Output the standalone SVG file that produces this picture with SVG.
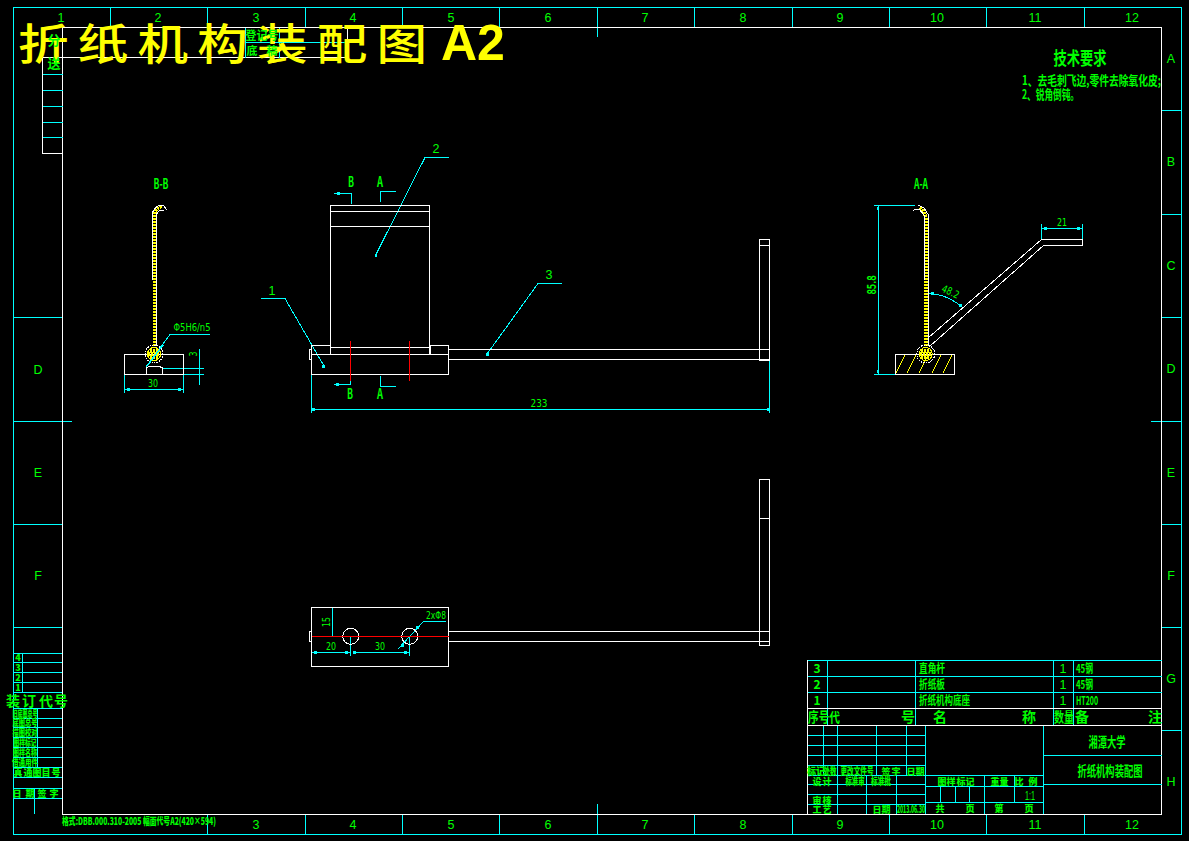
<svg xmlns="http://www.w3.org/2000/svg" width="1189" height="841" viewBox="0 0 1189 841" shape-rendering="crispEdges">
<style>
.c{stroke:#0ff;stroke-width:1;fill:none}
.w{stroke:#fff;stroke-width:1;fill:none}
.wb{stroke:#fff;stroke-width:1;fill:none}
.r{stroke:#f00;stroke-width:1;fill:none}
.y{stroke:#ff0;stroke-width:1;fill:none}
.yh{stroke:#ff0;stroke-width:3.500;stroke-dasharray:2 1;fill:none}
.lg{stroke:#0ff;stroke-width:1;fill:none}
.tick{fill:#0ff}
text{fill:#0f0;font-family:"Noto Sans CJK SC","DejaVu Sans",sans-serif;text-anchor:middle}
.n{font-family:"Liberation Sans",sans-serif;font-size:12.500px}
.d{font-family:"DejaVu Sans",sans-serif;font-size:10.500px}
.s{font-size:12px;font-weight:700}
.xs{font-size:10px;font-weight:900}
.g{font-size:9px;font-weight:900}
.l{text-anchor:start}
.t{fill:#ff0;font-size:46px;text-anchor:start;font-weight:500}
</style>
<rect width="1189" height="841" fill="#000"/>
<g id="frame">
<path class="c" d="M13.500 7.500H1181V834H13.500Z"/>
<path class="c" d="M110.500 7.500V27M207.500 7.500V27M305.500 7.500V27M402.500 7.500V27M499.500 7.500V27M597.500 7.500V37M694.500 7.500V27M792.500 7.500V27M889.500 7.500V27M986.500 7.500V27M1084.500 7.500V27"/>
<path class="c" d="M207.500 814V834M305.500 814V834M402.500 814V834M499.500 814V834M597.500 804V834M694.500 814V834M792.500 814V834M889.500 814V834M986.500 814V834M1084.500 814V834"/>
<path class="c" d="M13.500 317.500H62M13.500 421H72M13.500 524.500H62M13.500 627.500H62"/>
<path class="c" d="M1161.500 110.500H1181M1161.500 214H1181M1161.500 317.500H1181M1151 421H1181M1161.500 524.500H1181M1161.500 627.500H1181M1161.500 730.500H1181"/>
<path class="w" d="M62.500 27.500H1161.500V814H62.500Z"/>
<path class="w" d="M42.500 57.500H347.500V27.500M42.500 57.500V153.500H62.500"/>
<path class="c" d="M42.500 74.500H62.500M42.500 90.500H62.500M42.500 106.500H62.500M42.500 122.500H62.500M42.500 137.500H62.500"/>
<path class="c" d="M245.500 27.500V57.500M279.500 27.500V57.500M245.500 42.500H347.500"/>
</g>
<g id="drawing-title">
<text class="t" transform="translate(18 60) scale(1.1 0.95)" x="0" y="0" textLength="372" lengthAdjust="spacing">折纸机构装配图</text>
<text class="t" x="441" y="60" style="font-family:'Liberation Sans',sans-serif;font-weight:700;font-size:50px">A2</text>
</g>
<g id="border-labels">
<text class="n" x="61" y="22">1</text><text class="n" x="158" y="22">2</text><text class="n" x="256" y="22">3</text><text class="n" x="353" y="22">4</text><text class="n" x="451" y="22">5</text><text class="n" x="548" y="22">6</text><text class="n" x="645" y="22">7</text><text class="n" x="743" y="22">8</text><text class="n" x="840" y="22">9</text><text class="n" x="937" y="22">10</text><text class="n" x="1035" y="22">11</text><text class="n" x="1132" y="22">12</text>
<text class="n" x="256" y="829">3</text><text class="n" x="353" y="829">4</text><text class="n" x="451" y="829">5</text><text class="n" x="548" y="829">6</text><text class="n" x="645" y="829">7</text><text class="n" x="743" y="829">8</text><text class="n" x="840" y="829">9</text><text class="n" x="937" y="829">10</text><text class="n" x="1035" y="829">11</text><text class="n" x="1132" y="829">12</text>
<text class="n" x="38" y="374">D</text><text class="n" x="38" y="477">E</text><text class="n" x="38" y="580">F</text>
<text class="n" x="1171" y="63">A</text><text class="n" x="1171" y="166">B</text><text class="n" x="1171" y="270">C</text><text class="n" x="1171" y="373">D</text><text class="n" x="1171" y="477">E</text><text class="n" x="1171" y="580">F</text><text class="n" x="1171" y="683">G</text><text class="n" x="1171" y="786">H</text>
</g>
<g id="top-left-table">
<text class="s" x="54" y="45" style="font-size:13px">分</text><text class="s" x="54" y="68" style="font-size:13px">送</text>
<text class="s" x="262" y="40" textLength="33" lengthAdjust="spacingAndGlyphs">登记号</text>
<text class="s" x="252 272" y="55" style="font-size:11px">底稿</text>
</g>
<g id="connectors">
<path class="lg" d="M261 298.500H285L324 366M449 157.500H425L375.700 255M562 283.500H538L487 354"/>
<path class="lg" d="M334 193.500H351V204M380.500 202V191.500H396M334 384.500H350.500V375M380.500 376V386.500H396"/>
<path class="lg" d="M311.500 374V413M769.500 360V413M311.500 409.500H769.500"/>
<path class="lg" d="M124.500 374V393M183.500 374V393M124.500 389.500H183.500M162 368.500H204M183 374.500H204M199.500 349V385"/>
<path class="lg" d="M146 367L170 334.500H210"/>
<path class="lg" d="M874 205.500H915M874 374.500H895M878.500 205.500V374.500M1041.500 224V240M1082.500 224V240M1041.500 228.500H1082.500"/>
<path class="lg" d="M928 293.500Q948 294 963.500 308.500"/>
<path class="lg" d="M332.500 608V636.500M328 636.500H350.500M350.500 636V656M409.500 636V656M311.500 652H350M354 652H409.500M397.500 649.500L423.500 621.500H445.500"/>
<g class="tick">
<rect x="322" y="364.500" width="3" height="3"/><rect x="374.500" y="254" width="2.500" height="2.500"/><rect x="486" y="353" width="2.500" height="2.500"/>
<rect x="337" y="192" width="3" height="3"/><rect x="336" y="383" width="3" height="3"/>
<rect x="311.500" y="407.800" width="3" height="3"/><rect x="766.500" y="407.800" width="3" height="3"/>
<rect x="127" y="388" width="3" height="3"/><rect x="178" y="388" width="3" height="3"/>
<rect x="877" y="207" width="2" height="3"/><rect x="877" y="370" width="2" height="3"/>
<rect x="1044" y="227" width="3" height="3"/><rect x="1077" y="227" width="3" height="3"/>
<rect x="931" y="292" width="3" height="3"/><rect x="959" y="304" width="3" height="3"/>
<rect x="314" y="650.500" width="3" height="3"/><rect x="345" y="650.500" width="3" height="3"/><rect x="353" y="650.500" width="3" height="3"/><rect x="404" y="650.500" width="3" height="3"/>
<rect x="416" y="626" width="3" height="3"/><rect x="401" y="644" width="3" height="3"/>
</g>
</g>
<g id="part-1-base" class="wb">
<rect x="311.500" y="354.500" width="137" height="20"/>
<path d="M311.500 354V345.500H330M430.500 354V345.500H448.500V354M311.500 349.500H309.500V359.500H311.500"/>
</g>
<g id="part-2-plate" class="wb">
<rect x="330.500" y="205.500" width="99" height="142"/>
<path d="M330.500 211.500H429.500M330.500 226.500H429.500M330.500 347.500V354M429.500 347.500V354"/>
</g>
<g id="part-3-rod" class="wb">
<path d="M448.500 349.500H769.500M448.500 359.500H769.500"/>
<rect x="759.500" y="239.500" width="10" height="120.500"/>
<path d="M759.500 245.500H769.500"/>
</g>
<g id="section-marks">
<path class="r" d="M350.500 341V381M409.500 341V381"/>
</g>
<g id="plan-view">
<g class="wb">
<rect x="311.500" y="607.500" width="137" height="59"/>
<path d="M311.500 631H309.500V641.500H311.500M448.500 631.500H769.500M448.500 641.500H769.500"/>
<rect x="759.500" y="479.500" width="10" height="166"/>
<path d="M759.500 518.500H769.500"/>
</g>
<circle class="w" cx="350.700" cy="636.300" r="8"/><circle class="w" cx="409.700" cy="636.300" r="8"/>
<path class="r" style="stroke-width:1.500" d="M311.500 636.500H448.500"/>
</g>
<g id="section-b-b">
<rect class="wb" x="124.500" y="354.500" width="59" height="20"/>
<path class="wb" d="M146.500 374V367.500L150 366.500H158.500L162.500 367.500V374"/>
<path class="yh" d="M154.500 346V214Q155 208 162 206.500"/>
<path class="w" d="M152 280V215Q153 208 160 205L164 206L167 210M156.500 346V214L160 210H164"/>
<circle class="w" cx="154" cy="354" r="9" stroke-dasharray="1.500 1"/><circle class="y" cx="154" cy="354" r="6.500"/>
<path class="yh" d="M148 354H160M150 351H158M150 357H158"/>
<path class="lg" style="stroke-width:1.500" d="M147 366L163 345"/>
</g>
<g id="section-a-a">
<rect class="wb" x="895.500" y="354.500" width="59" height="20"/>
<path class="y" d="M896 373L905 355M907 373L916 355M919 373L928 355M932 373L941 355M943 373L952 355"/>
<path class="yh" d="M926 346V222Q926 212 919 207"/>
<path class="w" d="M924 280V215L919 209H915L913 211M928.500 346V215L924 208L918 205"/>
<path class="w" d="M928 338L1041.500 239.500H1082.500V245.500H1043.500L929.500 346.500"/>
<circle class="w" cx="925.700" cy="354" r="9" stroke-dasharray="1.500 1"/><circle class="y" cx="925.700" cy="354" r="6.500"/>
<path class="yh" d="M920 354H931M921 351H930M921 357H930"/>
</g>
<g id="dim-labels">
<text class="n" x="272" y="295">1</text><text class="n" x="436" y="153">2</text><text class="n" x="549" y="279">3</text>
<text class="s" x="351" y="187" style="font-size:14px" textLength="6" lengthAdjust="spacingAndGlyphs">B</text><text class="s" x="380" y="187" style="font-size:14px" textLength="6" lengthAdjust="spacingAndGlyphs">A</text><text class="s" x="350" y="399" style="font-size:14px" textLength="6" lengthAdjust="spacingAndGlyphs">B</text><text class="s" x="380" y="399" style="font-size:14px" textLength="6" lengthAdjust="spacingAndGlyphs">A</text>
<text class="d" x="539" y="407" textLength="17" lengthAdjust="spacingAndGlyphs">233</text>
<text class="s" x="161" y="189" style="font-size:14px" textLength="15" lengthAdjust="spacingAndGlyphs">B-B</text><text class="s" x="921" y="189" style="font-size:14px" textLength="14" lengthAdjust="spacingAndGlyphs">A-A</text>
<text class="d" x="192" y="331" textLength="37" lengthAdjust="spacingAndGlyphs">Φ5H6/n5</text>
<text class="d" x="153" y="387" textLength="10" lengthAdjust="spacingAndGlyphs">30</text>
<text class="d" transform="translate(197 354) rotate(-90)" textLength="5" lengthAdjust="spacingAndGlyphs">3</text>
<text class="s" transform="translate(876 285) rotate(-90)" textLength="19" lengthAdjust="spacingAndGlyphs">85.8</text>
<text class="d" transform="translate(949 295) rotate(25)" textLength="18" lengthAdjust="spacingAndGlyphs">48.2</text>
<text class="d" x="1062" y="226" textLength="10" lengthAdjust="spacingAndGlyphs">21</text>
<text class="d" transform="translate(330 622) rotate(-90)" textLength="10" lengthAdjust="spacingAndGlyphs">15</text>
<text class="d" x="331" y="650" textLength="10" lengthAdjust="spacingAndGlyphs">20</text><text class="d" x="380" y="650" textLength="10" lengthAdjust="spacingAndGlyphs">30</text>
<text class="d" x="436" y="619" textLength="20" lengthAdjust="spacingAndGlyphs">2xΦ8</text>
</g>
<g id="tech-notes">
<text x="1080" y="65" font-size="18" font-weight="700" textLength="53" lengthAdjust="spacingAndGlyphs">技术要求</text>
<text class="s l" x="1022" y="85" style="font-size:13px" textLength="139" lengthAdjust="spacingAndGlyphs">1、去毛刺飞边,零件去除氧化皮;</text>
<text class="s l" x="1022" y="99" style="font-size:13px" textLength="57" lengthAdjust="spacingAndGlyphs">2、锐角倒钝。</text>
</g>
<g id="title-block">
<path class="c" d="M807.500 660.500H1161.500M807.500 676.500H1161.500M807.500 692.500H1161.500"/>
<path class="c" d="M827.500 660.500V725M915.500 660.500V725M1053.500 660.500V725M1073.500 660.500V725"/>
<path class="c" d="M807.500 735.500H925.500M807.500 745.500H925.500M807.500 755.500H925.500M807.500 765.500H925.500M807.500 775.500H1043.500M807.500 784.500H925.500M807.500 794.500H925.500M807.500 804.500H925.500"/>
<path class="c" d="M823.500 725V775M837.500 725V814M876.500 725V775M906.500 725V775M866.500 775V814M896.500 775V814"/>
<path class="c" d="M925.500 725V814M1043.500 725V814M925.500 786.500H1043.500M925.500 802.500H1043.500M984.500 775V814M1014.500 775V802M940.500 786V802M955.500 786V802M969.500 786V802"/>
<path class="c" d="M1043.500 755.500H1161.500M1043.500 784.500H1161.500"/>
<path class="w" d="M807.500 660V814M807.500 708.500H1161.500M807.500 725.500H1161.500"/>
<text class="s" x="817" y="673">3</text><text class="s" x="817" y="689">2</text><text class="s" x="817" y="705">1</text>
<text class="s l" x="919" y="673" textLength="26" lengthAdjust="spacingAndGlyphs">直角杆</text>
<text class="s l" x="919" y="689" textLength="26" lengthAdjust="spacingAndGlyphs">折纸板</text>
<text class="s l" x="919" y="705" textLength="51" lengthAdjust="spacingAndGlyphs">折纸机构底座</text>
<text class="n" x="1063" y="673">1</text><text class="n" x="1063" y="689">1</text><text class="n" x="1063" y="705">1</text>
<text class="s l" x="1076" y="673" textLength="17" lengthAdjust="spacingAndGlyphs">45钢</text><text class="s l" x="1076" y="689" textLength="17" lengthAdjust="spacingAndGlyphs">45钢</text><text class="s l" x="1076" y="705" textLength="22" lengthAdjust="spacingAndGlyphs">HT200</text>
<text class="s l" x="808" y="722" style="font-size:14px" textLength="32" lengthAdjust="spacingAndGlyphs">序号代</text><text class="s" x="908" y="722" style="font-size:14px">号</text>
<text class="s" x="940" y="722" style="font-size:14px">名</text><text class="s" x="1029" y="722" style="font-size:14px">称</text>
<text class="s" x="1064" y="722" style="font-size:14px" textLength="20" lengthAdjust="spacingAndGlyphs">数量</text><text class="s" x="1082" y="722" style="font-size:14px">备</text><text class="s" x="1155" y="722" style="font-size:14px">注</text>
<text class="s" x="1107" y="747" style="font-size:14px" textLength="37" lengthAdjust="spacingAndGlyphs">湘潭大学</text>
<text class="s" x="1110" y="776" style="font-size:14px" textLength="65" lengthAdjust="spacingAndGlyphs">折纸机构装配图</text>
<text class="xs" x="816" y="775" textLength="18" lengthAdjust="spacingAndGlyphs">标记</text><text class="xs" x="830" y="775" textLength="13" lengthAdjust="spacingAndGlyphs">处数</text><text class="xs" x="857" y="775" textLength="33" lengthAdjust="spacingAndGlyphs">更改文件号</text><text class="g" x="886 896" y="775">签字</text><text class="g" x="911 920" y="775">日期</text>
<text class="g" x="817 827" y="785">设计</text><text class="xs" x="855" y="785" textLength="19" lengthAdjust="spacingAndGlyphs">标准审</text><text class="xs" x="881" y="785" textLength="20" lengthAdjust="spacingAndGlyphs">标准批</text>
<text class="g" x="817 827" y="804">审核</text><text class="g" x="817 827" y="813">工艺</text>
<text class="g" x="877 886" y="813">日期</text><text class="xs" x="911" y="813" textLength="28" lengthAdjust="spacingAndGlyphs">2013.06.30</text>
<text class="g" x="942 951 961 970" y="785">图样标记</text><text class="g" x="995 1004" y="785">重量</text><text class="g" x="1019 1033" y="785">比例</text>
<text class="n" x="1030" y="800" textLength="10" lengthAdjust="spacingAndGlyphs">1:1</text>
<text class="g" x="940" y="812">共</text><text class="g" x="970" y="812">页</text><text class="g" x="999" y="812">第</text><text class="g" x="1029" y="812">页</text>
</g>
<g id="left-strip">
<path class="c" d="M13.500 653.500H62M13.500 662.500H62M13.500 672.500H62M13.500 682.500H62M13.500 692.500H62M13.500 708.500H62M13.500 718.500H62M13.500 727.500H62M13.500 737.500H62M13.500 747.500H62M13.500 757.500H62M13.500 767.500H62M13.500 777.500H62M13.500 788.500H62M13.500 798.500H62"/>
<path class="c" d="M22.500 653V692M37.500 708V767M34.500 788V814"/>
<text class="g" x="18" y="661">4</text><text class="g" x="18" y="671">3</text><text class="g" x="18" y="681">2</text><text class="g" x="18" y="691">1</text>
<text class="s" x="13 29 46 61" y="706" style="font-size:14px">装订代号</text>
<text class="g" x="25" y="717" textLength="25" lengthAdjust="spacingAndGlyphs">旧底图总号</text><text class="g" x="25" y="726" textLength="25" lengthAdjust="spacingAndGlyphs">底图总号</text><text class="g" x="25" y="736" textLength="25" lengthAdjust="spacingAndGlyphs">描图校对</text><text class="g" x="25" y="746" textLength="23" lengthAdjust="spacingAndGlyphs">图样标记</text><text class="g" x="25" y="756" textLength="24" lengthAdjust="spacingAndGlyphs">图样名称</text><text class="g" x="25" y="766" textLength="26" lengthAdjust="spacingAndGlyphs">借通用件</text>
<text class="g" x="18 28 37 46 56" y="776">真通图目号</text>
<text class="g" x="17 30 42 54" y="797">日期签字</text>
<text class="xs l" x="62" y="825" textLength="154" lengthAdjust="spacingAndGlyphs">格式:DBB.000.310-2005 幅面代号A2(420×594)</text>
</g>
</svg>
